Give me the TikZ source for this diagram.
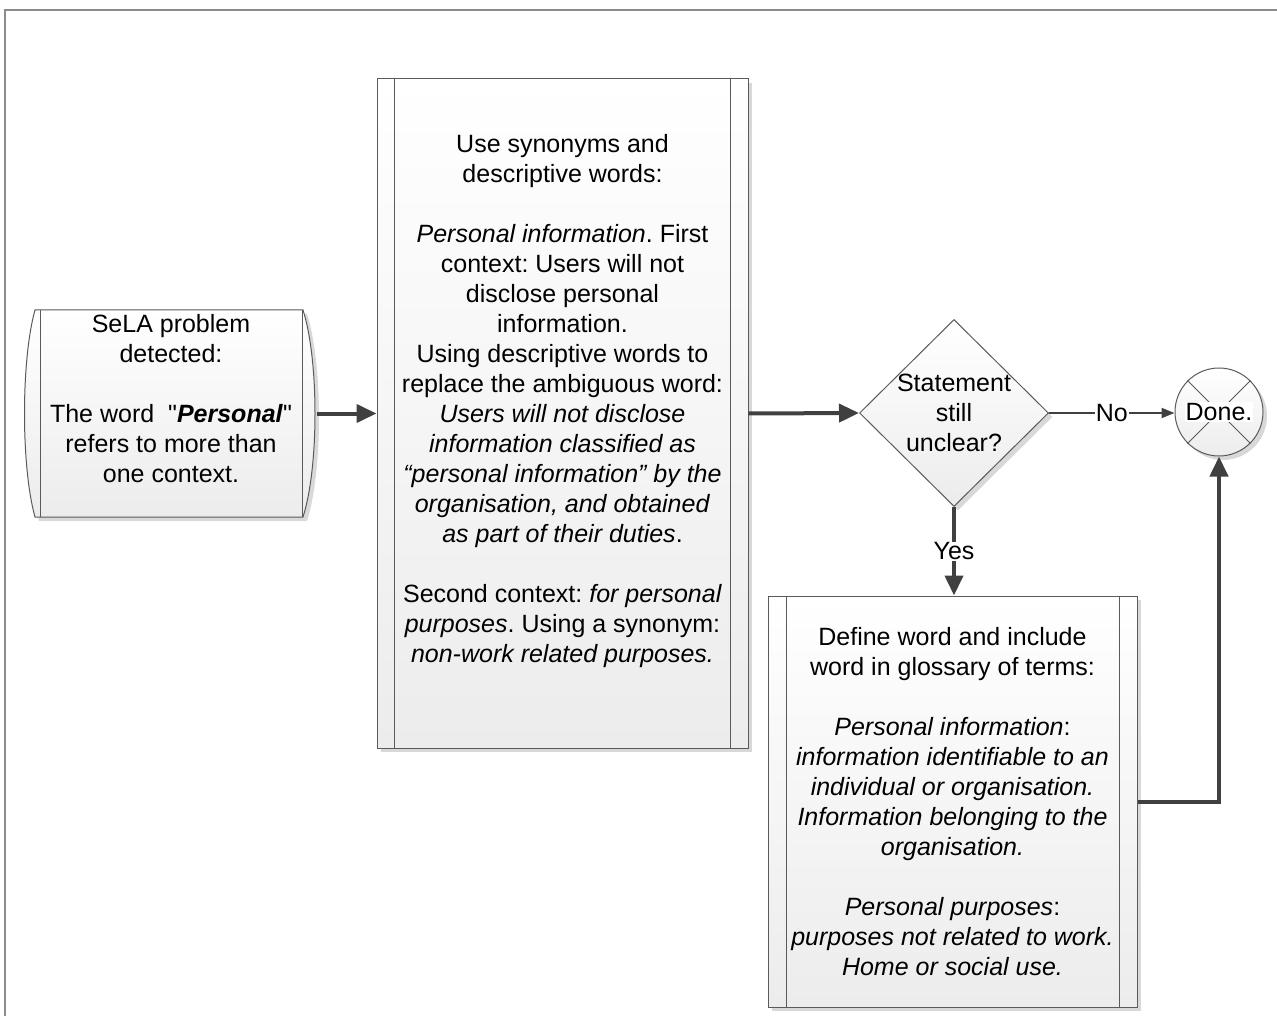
\documentclass[tikz,border=0pt]{standalone}
\usepackage{fontspec}
\setmainfont{Liberation Sans}[Ligatures=TeXOff]
\usepackage{tikz}
\usetikzlibrary{arrows.meta,shapes.geometric,shadows}

\definecolor{linegray}{HTML}{5A5A5A}
\definecolor{arrowgray}{HTML}{404040}
\definecolor{fillgray}{HTML}{ECECEC}
\definecolor{framegray}{HTML}{8C8C8C}
\newcommand{\flowfont}{\fontsize{25}{30}\selectfont\frenchspacing}

\begin{document}
\begin{tikzpicture}[x=1pt,y=-1pt,
	every node/.style={font=\flowfont, text=black},
	boxshadow/.style={drop shadow={shadow xshift=4pt, shadow yshift=-4pt, fill=black!30, opacity=0.5}},
	flowbox/.style={draw=linegray, line width=1pt, top color=white, bottom color=fillgray, align=center, inner sep=0pt, boxshadow},
	decision/.style={diamond, draw=linegray, line width=1pt, top color=white, bottom color=fillgray, align=center, inner sep=-10pt, minimum width=189pt, minimum height=187pt, boxshadow},
	endcircle/.style={circle, draw=linegray, line width=1pt, top color=white, bottom color=fillgray, minimum size=88pt, inner sep=0pt, boxshadow},
	flowarrow/.style={arrowgray, line width=4pt, -{Triangle[length=20pt,width=18pt]}},
	thinarrow/.style={arrowgray, line width=2pt, -{Triangle[length=13pt,width=10pt]}},
	lbl/.style={fill=white, text=black, inner sep=1pt}]
	\useasboundingbox (0,0) rectangle (1277,1016);
	\draw[framegray, line width=1.5pt] (5,1016) -- (5,10) -- (1277,10);

	% stored data shape on the left
	\fill[black!15, xshift=4pt, yshift=-4pt] (35,310) -- (303,310) .. controls (319,360) and (319,467) .. (303,517) -- (35,517) .. controls (21,467) and (21,360) .. (35,310) -- cycle;
	\shade[top color=white, bottom color=fillgray] (35,310) -- (303,310) .. controls (319,360) and (319,467) .. (303,517) -- (35,517) .. controls (21,467) and (21,360) .. (35,310) -- cycle;
	\draw[linegray, line width=1pt] (35,310) -- (303,310) .. controls (319,360) and (319,467) .. (303,517) -- (35,517) .. controls (21,467) and (21,360) .. (35,310) -- cycle;
	\draw[linegray, line width=1pt] (40,310) -- (40,517) (302,310) -- (302,517);
	\node[align=center, minimum width=262pt, minimum height=207pt, inner sep=0pt] (sela) at (171,413.5)
		{SeLA problem\\detected:\\[30pt]The word\ \ "\textbf{\textit{Personal}}"\\refers to more than\\one context.\\~};

	% predefined process boxes
	\node[flowbox, minimum width=371pt, minimum height=669pt] (synon) at (562.5,413.5)
		{Use synonyms and\\descriptive words:\\[30pt]
		\textit{Personal information}. First\\context: Users will not\\disclose personal\\information.\\
		Using descriptive words to\\replace the ambiguous word:\\
		\textit{Users will not disclose}\\\textit{information classified as}\\\textit{“personal information” by the}\\
		\textit{organisation, and obtained}\\\textit{as part of their duties}.\\[30pt]
		Second context: \textit{for personal}\\\textit{purposes}. Using a synonym:\\\textit{non-work related purposes.}\\~};
	\draw[linegray, line width=1pt] ([xshift=18pt]synon.north west) -- ([xshift=18pt]synon.south west)
		([xshift=-18pt]synon.north east) -- ([xshift=-18pt]synon.south east);

	\node[flowbox, minimum width=369pt, minimum height=411pt] (defn) at (952.5,801.5)
		{Define word and include\\word in glossary of terms:\\[30pt]
		\textit{Personal information}:\\\textit{information identifiable to an}\\\textit{individual or organisation.}\\
		\textit{Information belonging to the}\\\textit{organisation.}\\[30pt]
		\textit{Personal purposes}:\\\textit{purposes not related to work.}\\\textit{Home or social use.}};
	\draw[linegray, line width=1pt] ([xshift=19pt]defn.north west) -- ([xshift=19pt]defn.south west)
		([xshift=-18pt]defn.north east) -- ([xshift=-18pt]defn.south east);

	% decision and end
	\node[decision] (chk) at (954,413) {Statement\\still\\unclear?};
	\node[endcircle] (done) at (1219,412) {};
	\draw[linegray, line width=1pt] (done.north west) -- (done.south east) (done.north east) -- (done.south west);
	\node[fill=white, inner sep=1pt] (donetxt) at (done.center) {Done.};

	% connectors
	\draw[flowarrow] ([xshift=15pt]sela.east) -- (synon.west);
	\draw[flowarrow] (synon.east) -- (chk.west);
	\draw[thinarrow] (chk.east) -- node[lbl]{No} (chk.east -| done.west);
	\draw[flowarrow] (chk.south) -- node[lbl]{Yes} (chk.south |- defn.north);
	\draw[flowarrow] (defn.east) -| (done.south);
\end{tikzpicture}
\end{document}
